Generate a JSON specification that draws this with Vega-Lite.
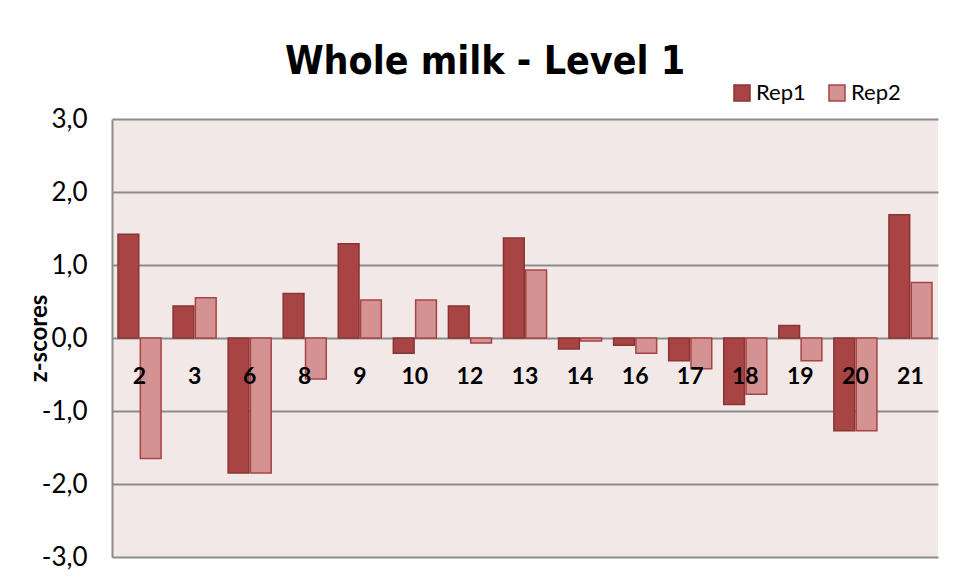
{
  "$schema": "https://vega.github.io/schema/vega-lite/v6.json",
  "width": 826,
  "height": 438,
  "autosize": {"type": "none"},
  "padding": {"left": 112, "top": 119, "right": 17, "bottom": 24},
  "background": "white",
  "title": {
    "text": "Whole milk - Level 1",
    "font": "DejaVu Sans Condensed, Liberation Sans, sans-serif",
    "fontSize": 39,
    "fontWeight": "bold",
    "color": "#000000",
    "anchor": "middle",
    "dx": -40,
    "baseline": "alphabetic",
    "offset": -31
  },
  "data": {
    "values": [
      {"lab": "2", "rep": "Rep1", "z": 1.42},
      {"lab": "2", "rep": "Rep2", "z": -1.65},
      {"lab": "3", "rep": "Rep1", "z": 0.44},
      {"lab": "3", "rep": "Rep2", "z": 0.55},
      {"lab": "6", "rep": "Rep1", "z": -1.85},
      {"lab": "6", "rep": "Rep2", "z": -1.85},
      {"lab": "8", "rep": "Rep1", "z": 0.61},
      {"lab": "8", "rep": "Rep2", "z": -0.56},
      {"lab": "9", "rep": "Rep1", "z": 1.29},
      {"lab": "9", "rep": "Rep2", "z": 0.52},
      {"lab": "10", "rep": "Rep1", "z": -0.21},
      {"lab": "10", "rep": "Rep2", "z": 0.52},
      {"lab": "12", "rep": "Rep1", "z": 0.44},
      {"lab": "12", "rep": "Rep2", "z": -0.07},
      {"lab": "13", "rep": "Rep1", "z": 1.37},
      {"lab": "13", "rep": "Rep2", "z": 0.93},
      {"lab": "14", "rep": "Rep1", "z": -0.15},
      {"lab": "14", "rep": "Rep2", "z": -0.04},
      {"lab": "16", "rep": "Rep1", "z": -0.1},
      {"lab": "16", "rep": "Rep2", "z": -0.21},
      {"lab": "17", "rep": "Rep1", "z": -0.31},
      {"lab": "17", "rep": "Rep2", "z": -0.42},
      {"lab": "18", "rep": "Rep1", "z": -0.91},
      {"lab": "18", "rep": "Rep2", "z": -0.77},
      {"lab": "19", "rep": "Rep1", "z": 0.17},
      {"lab": "19", "rep": "Rep2", "z": -0.31},
      {"lab": "20", "rep": "Rep1", "z": -1.27},
      {"lab": "20", "rep": "Rep2", "z": -1.27},
      {"lab": "21", "rep": "Rep1", "z": 1.69},
      {"lab": "21", "rep": "Rep2", "z": 0.76}
    ]
  },
  "mark": {"type": "bar", "strokeWidth": 1.5},
  "encoding": {
    "x": {
      "field": "lab",
      "type": "nominal",
      "sort": null,
      "scale": {"paddingInner": 0.218, "paddingOuter": 0.109},
      "axis": {
        "title": null,
        "orient": "bottom",
        "offset": -219,
        "domain": false,
        "ticks": false,
        "grid": false,
        "labelAngle": 0,
        "labelPadding": 27,
        "labelFont": "Lato",
        "labelFontSize": 23,
        "labelFontWeight": "bold",
        "labelColor": "#000000",
        "labelBaseline": "top",
        "zindex": 1
      }
    },
    "xOffset": {
      "field": "rep",
      "type": "nominal",
      "scale": {"paddingInner": 0.07, "paddingOuter": 0}
    },
    "y": {
      "field": "z",
      "type": "quantitative",
      "scale": {"domain": [-3, 3], "nice": false, "zero": true},
      "axis": {
        "title": "z-scores",
        "titleFont": "Lato",
        "titleFontSize": 24,
        "titleFontWeight": "bold",
        "titleColor": "#000000",
        "titleX": -73,
        "titleY": 219,
        "titleAngle": -90,
        "titleAlign": "center",
        "titleBaseline": "middle",
        "values": [-3, -2, -1, 0, 1, 2, 3],
        "labelExpr": "replace(replace(format(datum.value, '.1f'), '.', ','), '−', '-')",
        "labelFont": "Lato",
        "labelFontSize": 26,
        "labelColor": "#000000",
        "labelPadding": 25,
        "ticks": false,
        "domainColor": "#8c8c8c",
        "domainWidth": 2,
        "grid": true,
        "gridColor": "#8c8c8c",
        "gridWidth": 2
      }
    },
    "color": {
      "field": "rep",
      "type": "nominal",
      "scale": {"domain": ["Rep1", "Rep2"], "range": ["#A84443", "#D49392"]},
      "legend": {
        "title": null,
        "orient": "none",
        "direction": "horizontal",
        "legendX": 619,
        "legendY": -37,
        "symbolType": "square",
        "symbolSize": 256,
        "symbolStrokeWidth": 1.5,
        "labelFont": "Lato",
        "labelFontSize": 22,
        "labelColor": "#000000",
        "labelOffset": 3,
        "columnPadding": 20
      }
    },
    "stroke": {
      "field": "rep",
      "type": "nominal",
      "scale": {"domain": ["Rep1", "Rep2"], "range": ["#8A3433", "#A64443"]},
      "legend": null
    }
  },
  "config": {
    "view": {"fill": "#F2E8E8", "stroke": null},
    "axis": {"gridOpacity": 1}
  }
}
